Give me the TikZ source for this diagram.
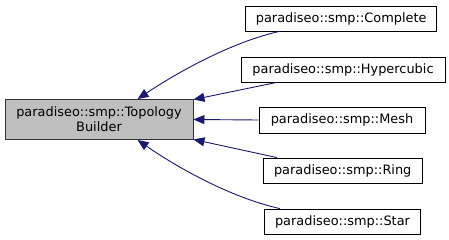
\documentclass[tikz,border=0pt]{standalone}
\usepackage{fontspec}
\setmainfont{DejaVu Sans}
\usetikzlibrary{arrows.meta,calc}
\definecolor{edgeblue}{HTML}{191970}
\definecolor{basegray}{HTML}{BFBFBF}
\begin{document}
\begin{tikzpicture}[x=1pt,y=-1pt,
  cls/.style={draw=black,line width=0.9pt,fill=white,inner sep=0pt,
    font=\fontsize{12.9}{15}\selectfont,align=center},
  basecls/.style={cls,fill=basegray,draw=black!80},
  edge/.style={draw=edgeblue,line width=0.9pt,
    -{Triangle[length=11pt,width=9pt,fill=edgeblue]}}]
\useasboundingbox (0,0) rectangle (449,240);
% base class
\node[basecls,minimum width=188pt,minimum height=40pt] (base) at (99,119.5)
  {paradiseo::smp::Topology\\Builder};
% derived classes
\node[cls,minimum width=191pt,minimum height=25pt] (complete) at (341.2,18.5) {paradiseo::smp::Complete};
\node[cls,minimum width=204pt,minimum height=25pt] (hyper) at (343,69.5) {paradiseo::smp::Hypercubic};
\node[cls,minimum width=166pt,minimum height=26pt] (mesh) at (342,120) {paradiseo::smp::Mesh};
\node[cls,minimum width=159pt,minimum height=25pt] (ring) at (342.7,170.5) {paradiseo::smp::Ring};
\node[cls,minimum width=156.4pt,minimum height=25pt] (star) at (342.5,221.5) {paradiseo::smp::Star};
% inheritance edges
\draw[edge] ($(complete.south west)+(34,0)$) .. controls (232,42) and (178,72) .. ($(base.north west)+(133,0)$);
\draw[edge] ($(hyper.south west)+(36,0)$) -- ($(base.north east)+(0,0.5)$);
\draw[edge] (mesh.west) -- (base.east);
\draw[edge] ($(ring.north west)+(14,0)$) -- ($(base.south east)+(0,-0.5)$);
\draw[edge] ($(star.north west)+(16,0)$) .. controls (232,198) and (178,168) .. ($(base.south west)+(133,0)$);
\end{tikzpicture}
\end{document}
